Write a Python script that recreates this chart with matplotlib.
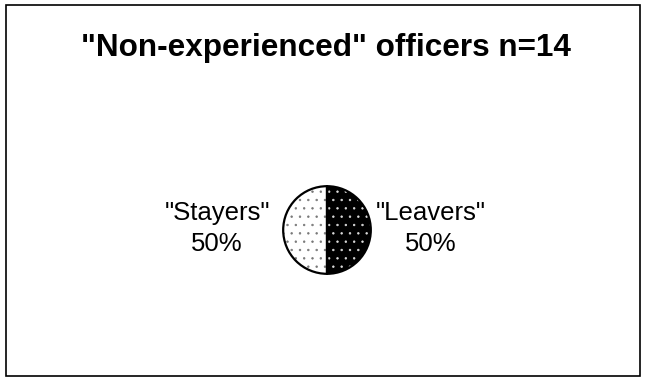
import matplotlib
matplotlib.use('Agg')
import matplotlib.pyplot as plt

plt.rcParams['font.family'] = ['Liberation Sans', 'DejaVu Sans']
plt.rcParams['hatch.linewidth'] = 0.5

title = '"Non-experienced" officers n=14'
labels = ['"Stayers"', '"Leavers"']
shares = [50, 50]

fig = plt.figure(figsize=(6.45, 3.81), dpi=100)
# outer frame
fig.add_artist(plt.Rectangle((6 / 645, 5 / 381), 634 / 645, 371 / 381,
                             transform=fig.transFigure, fill=False,
                             edgecolor='black', linewidth=1.2))
fig.text(0.506, 0.873, title, ha='center', va='center', fontsize=22.7,
         fontweight='bold')

# pie axes around centre (327, 230), radius ~46 px
ax = fig.add_axes([(327 - 46) / 645, 1 - (230 + 46) / 381, 92 / 645, 92 / 381])
ax.set_aspect('equal')
ax.axis('off')

wedges, _ = ax.pie(shares, startangle=90, counterclock=True,
                   colors=['white', 'black'], radius=1.0,
                   wedgeprops=dict(linewidth=0))
wedges[0].set_hatch('..')
wedges[0].set_edgecolor('#777777')
wedges[1].set_hatch('..')
wedges[1].set_edgecolor('#dddddd')
# outline
ax.pie(shares, startangle=90, counterclock=True, colors=['none', 'none'],
       radius=1.0, wedgeprops=dict(linewidth=1.6, edgecolor='black', fill=False))
ax.set_xlim(-1.05, 1.05)
ax.set_ylim(-1.05, 1.05)

fig.text(217 / 645, 1 - 213 / 381, labels[0], ha='center', va='center', fontsize=18.5)
fig.text(217 / 645, 1 - 244 / 381, f'{shares[0]}%', ha='center', va='center', fontsize=18.5)
fig.text(431 / 645, 1 - 213 / 381, labels[1], ha='center', va='center', fontsize=18.5)
fig.text(431 / 645, 1 - 244 / 381, f'{shares[1]}%', ha='center', va='center', fontsize=18.5)

fig.savefig('out.png', dpi=100, facecolor='white')
